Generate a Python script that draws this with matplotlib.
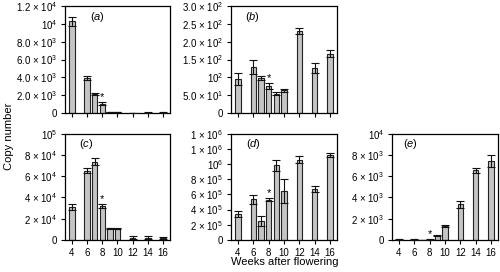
import numpy as np
import matplotlib.pyplot as plt

plt.switch_backend('Agg')
plt.rcParams['font.family'] = ['Liberation Sans', 'DejaVu Sans']
plt.rcParams['mathtext.fontset'] = 'custom'
plt.rcParams['mathtext.rm'] = 'Liberation Sans'
plt.rcParams['mathtext.it'] = 'Liberation Sans:italic'

# weeks after flowering (bar positions)
weeks = [4, 6, 7, 8, 9, 10, 12, 14, 16]
star_week = 8

# panel (a)
a_vals = [10300, 3900, 2150, 1050, 80, 60, 30, 40, 50]
a_err = [500, 250, 100, 150, 10, 10, 10, 10, 10]
a_ticks = [0, 2000, 4000, 6000, 8000, 10000, 12000]
a_labels = ['0', '2.0 × 10$^3$', '4.0 × 10$^3$', '6.0 × 10$^3$',
            '8.0 × 10$^3$', '10$^4$', '1.2 × 10$^4$']

# panel (b)
b_vals = [95, 130, 98, 75, 54, 63, 231, 127, 167]
b_err = [16, 20, 5, 9, 4, 5, 9, 14, 11]
b_ticks = [0, 50, 100, 150, 200, 250, 300]
b_labels = ['0', '5.0 × 10$^1$', '10$^2$', '1.5 × 10$^2$',
            '2.0 × 10$^2$', '2.5 × 10$^2$', '3.0 × 10$^2$']

# panel (c)
c_vals = [30800, 65400, 73900, 32000, 11000, 10700, 2200, 2000, 1500]
c_err = [3000, 2000, 3000, 1500, 500, 700, 1600, 1500, 800]
c_ticks = [0, 20000, 40000, 60000, 80000, 100000]
c_labels = ['0', '2 × 10$^4$', '4 × 10$^4$', '6 × 10$^4$',
            '8 × 10$^4$', '10$^5$']

# panel (d)
d_vals = [348000, 535000, 252000, 530000, 983000, 643000, 1061000, 678000, 1125000]
d_err = [40000, 60000, 70000, 20000, 70000, 160000, 45000, 40000, 25000]
d_ticks = [0, 200000, 400000, 600000, 800000, 1000000, 1200000, 1400000]
d_labels = ['0', '2 × 10$^5$', '4 × 10$^5$', '6 × 10$^5$',
            '8 × 10$^5$', '10$^6$', '1 × 10$^6$', '1 × 10$^6$']

# panel (e)
e_vals = [60, 40, 20, 40, 400, 1300, 3350, 6550, 7450]
e_err = [30, 20, 10, 20, 60, 60, 300, 200, 600]
e_ticks = [0, 2000, 4000, 6000, 8000, 10000]
e_labels = ['0', '2 × 10$^3$', '4 × 10$^3$', '6 × 10$^3$',
            '8 × 10$^3$', '10$^4$']

panels = [
    ('a', a_vals, a_err, a_ticks, a_labels, [0.130, 0.585, 0.210, 0.392], 0.24),
    ('b', b_vals, b_err, b_ticks, b_labels, [0.462, 0.585, 0.212, 0.392], 0.13),
    ('c', c_vals, c_err, c_ticks, c_labels, [0.130, 0.118, 0.210, 0.390], 0.13),
    ('d', d_vals, d_err, d_ticks, d_labels, [0.462, 0.118, 0.212, 0.390], 0.14),
    ('e', e_vals, e_err, e_ticks, e_labels, [0.784, 0.118, 0.212, 0.390], 0.10),
]

fig = plt.figure(figsize=(5, 2.72), dpi=100)

for letter, vals, err, ticks, labels, rect, lx in panels:
    ax = fig.add_axes(rect)
    ax.bar(weeks, vals, width=0.72, color='#c4c4c4', edgecolor='#222222',
           linewidth=0.8, zorder=2)
    ax.errorbar(weeks, vals, yerr=err, fmt='none', ecolor='#111111',
                elinewidth=0.8, capsize=2.6, capthick=0.8, zorder=3)
    i = weeks.index(star_week)
    ax.text(star_week, vals[i] + err[i], '*',
            ha='center', va='bottom', fontsize=8)
    ax.set_xlim(3.1, 16.9)
    ax.set_ylim(0, ticks[-1])
    ax.set_yticks(ticks)
    ax.set_yticklabels(labels)
    ax.set_xticks([4, 6, 8, 10, 12, 14, 16])
    if letter in ('a', 'b'):
        ax.set_xticklabels([])
    ax.tick_params(axis='both', labelsize=7, length=3, width=0.8, pad=2.5)
    for sp in ax.spines.values():
        sp.set_linewidth(0.9)
    ax.text(lx, 0.9, r'($\it{' + letter + '}$)', transform=ax.transAxes,
            fontsize=8, ha='left', va='center')

fig.text(0.018, 0.5, 'Copy number', rotation=90, ha='center', va='center',
         fontsize=8)
fig.text(0.57, 0.035, 'Weeks after flowering', ha='center', va='center',
         fontsize=8)

fig.savefig('out.png', dpi=100)
